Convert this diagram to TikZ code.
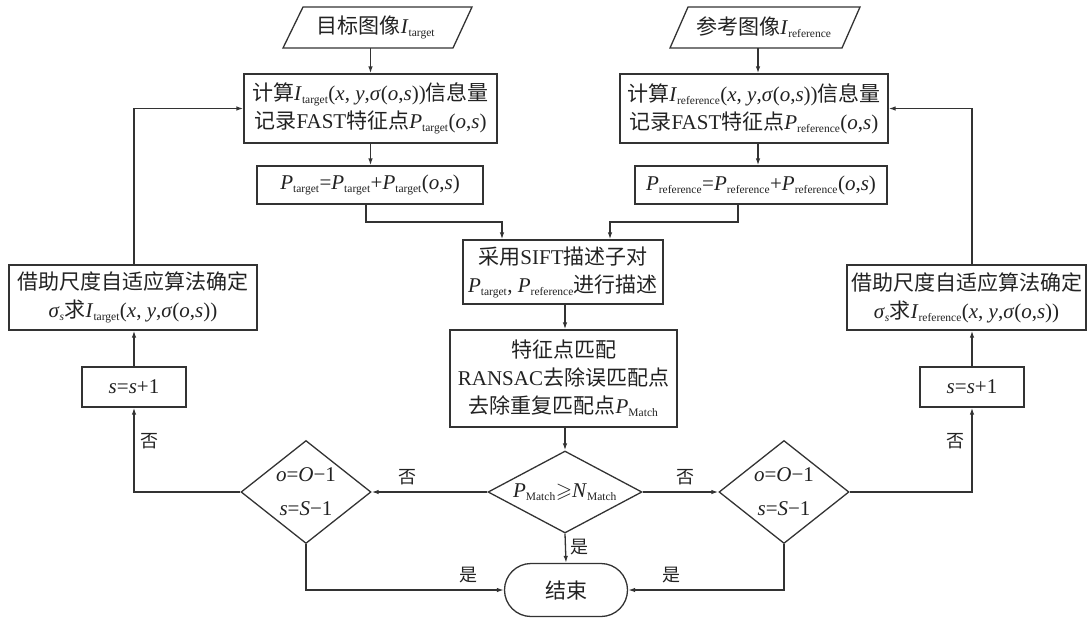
\documentclass[tikz,border=0pt]{standalone}
\usepackage{amssymb}
\usepackage{fontspec}
\setmainfont{Liberation Serif}
\newfontfamily\cjk{Noto Sans CJK SC}
\usetikzlibrary{shapes.geometric,shapes.misc,arrows.meta}
\newcommand\zh[1]{{\cjk #1}}
\newcommand\sbs[1]{\textsubscript{\fontsize{11.5}{11.5}\selectfont #1}}
\newcommand\iv[1]{\textit{#1}}
\definecolor{linec}{HTML}{333333}
\definecolor{txtc}{HTML}{222222}
\begin{document}
\begin{tikzpicture}[x=1pt,y=-1pt,
  every node/.style={text=txtc},
  box/.style={draw=linec, line width=1.3pt, inner sep=0pt, align=center, font=\fontsize{21}{28}\selectfont},
  txt/.style={inner sep=0pt, align=center, font=\fontsize{21}{28}\selectfont},
  dia/.style={draw=linec, line width=1.3pt, diamond, inner sep=0pt},
  lab/.style={inner sep=0pt, font=\cjk\fontsize{18}{18}\selectfont},
  arr/.style={draw=linec, line width=1.3pt, -{Latex[length=7pt,width=4.5pt]}},
  ln/.style={draw=linec, line width=1.3pt}
]
\useasboundingbox (0,0) rectangle (1089,619);

% input parallelograms
\draw[ln] (303,7) -- (472,7) -- (453,48) -- (283,48) -- cycle;
\node[txt, minimum height=41] (inL) at (376,27.5) {\zh{目标图像}\iv{I}\sbs{target}};
\draw[ln] (688,7) -- (860,7) -- (842,48) -- (670,48) -- cycle;
\node[txt, minimum height=41] (inR) at (764,27.5) {\zh{参考图像}\iv{I}\sbs{reference}};

% compute boxes
\node[box, minimum width=253, minimum height=69] (b2L) at (370.5,108.5)
  {\zh{计算}\iv{I}\sbs{target}(\iv{x}, \iv{y},\iv{σ}(\iv{o},\iv{s}))\zh{信息量}\\
   \zh{记录}FAST\zh{特征点}\iv{P}\sbs{target}(\iv{o},\iv{s})};
\node[box, minimum width=268, minimum height=69] (b2R) at (754,108.5)
  {\zh{计算}\iv{I}\sbs{reference}(\iv{x}, \iv{y},\iv{σ}(\iv{o},\iv{s}))\zh{信息量}\\
   \zh{记录}FAST\zh{特征点}\iv{P}\sbs{reference}(\iv{o},\iv{s})};

\node[box, minimum width=226, minimum height=38] (b3L) at (370,185)
  {\iv{P}\sbs{target}=\iv{P}\sbs{target}+\iv{P}\sbs{target}(\iv{o},\iv{s})};
\node[box, minimum width=252, minimum height=38] (b3R) at (761,185)
  {\iv{P}\sbs{reference}=\iv{P}\sbs{reference}+\iv{P}\sbs{reference}(\iv{o},\iv{s})};

% SIFT and matching
\node[box, minimum width=200, minimum height=64] (sift) at (563,272)
  {\zh{采用}SIFT\zh{描述子对}\\ \iv{P}\sbs{target}, \iv{P}\sbs{reference}\zh{进行描述}};
\node[box, minimum width=227, minimum height=97] (match) at (563.5,378.5)
  {\zh{特征点匹配}\\ RANSAC\zh{去除误匹配点}\\ \zh{去除重复匹配点}\iv{P}\sbs{Match}};

% diamonds
\node[dia, minimum width=154, minimum height=82] (dC) at (565,492) {};
\node[txt] (dCt) at (dC) {\iv{P}\sbs{Match}$\geqslant$\iv{N}\sbs{Match}};
\node[dia, minimum width=130, minimum height=103] (dL) at (306,492) {};
\node[txt, font=\fontsize{21}{34}\selectfont] (dLt) at (dL) {\iv{o}=\iv{O}−1\\ \iv{s}=\iv{S}−1};
\node[dia, minimum width=130, minimum height=103] (dR) at (784,492) {};
\node[txt, font=\fontsize{21}{34}\selectfont] (dRt) at (dR) {\iv{o}=\iv{O}−1\\ \iv{s}=\iv{S}−1};

% end
\node[box, rounded rectangle, minimum width=123, minimum height=53] (end) at (566,590) {\zh{结束}};

% side boxes
\node[box, minimum width=248, minimum height=65] (jL) at (133,297.5)
  {\zh{借助尺度自适应算法确定}\\ \iv{σ}\sbs{\iv{s}}\zh{求}\iv{I}\sbs{target}(\iv{x}, \iv{y},\iv{σ}(\iv{o},\iv{s}))};
\node[box, minimum width=239, minimum height=65] (jR) at (966.5,297.5)
  {\zh{借助尺度自适应算法确定}\\ \iv{σ}\sbs{\iv{s}}\zh{求}\iv{I}\sbs{reference}(\iv{x}, \iv{y},\iv{σ}(\iv{o},\iv{s}))};
\node[box, minimum width=104, minimum height=40] (sL) at (134,387) {\iv{s}=\iv{s}+1};
\node[box, minimum width=104, minimum height=40] (sR) at (972,387) {\iv{s}=\iv{s}+1};

% connectors: top
\draw[arr] (inL.south -| b2L.north) -- (b2L.north);
\draw[arr] (inR.south -| 758,0) -- (b2R.north -| 758,0);
\draw[arr] (b2L.south) -- (b2L.south |- b3L.north);
\draw[arr] (b2R.south -| 758,0) -- (b3R.north -| 758,0);
\coordinate (mL) at (502,222);
\coordinate (mR) at (610,222);
\draw[arr] (b3L.south -| 366,0) |- (mL) -- (mL |- sift.north);
\draw[arr] (b3R.south -| 738,0) |- (mR) -- (mR |- sift.north);
\draw[arr] (sift.south -| 565,0) -- (match.north -| 565,0);
\draw[arr] (match.south -| 565,0) -- (dC.north);

% decisions
\draw[arr] (dC.west) -- (dL.east) node[lab, pos=0.69, above=6pt] {否};
\draw[arr] (dC.east) -- (dR.west) node[lab, pos=0.56, above=6pt] {否};
\draw[arr] (dC.south) -- (end.north) node[lab, pos=0.45, right=4pt] {是};
\draw[arr] (dL.south) |- (end.west) node[lab, pos=0.91, above=6pt] {是};
\draw[arr] (dR.south) |- (end.east) node[lab, pos=0.86, above=6pt] {是};

% loops
\draw[arr] (dL.west) -| (sL.south) node[lab, pos=0.8, right=6pt] {否};
\draw[arr] (sL.north) -- (sL.north |- jL.south);
\draw[arr] (jL.north -| sL.north) |- (b2L.west);
\draw[arr] (dR.east) -| (sR.south) node[lab, pos=0.8, left=7pt] {否};
\draw[arr] (sR.north) -- (sR.north |- jR.south);
\draw[arr] (jR.north -| sR.north) |- (b2R.east);
\end{tikzpicture}
\end{document}
